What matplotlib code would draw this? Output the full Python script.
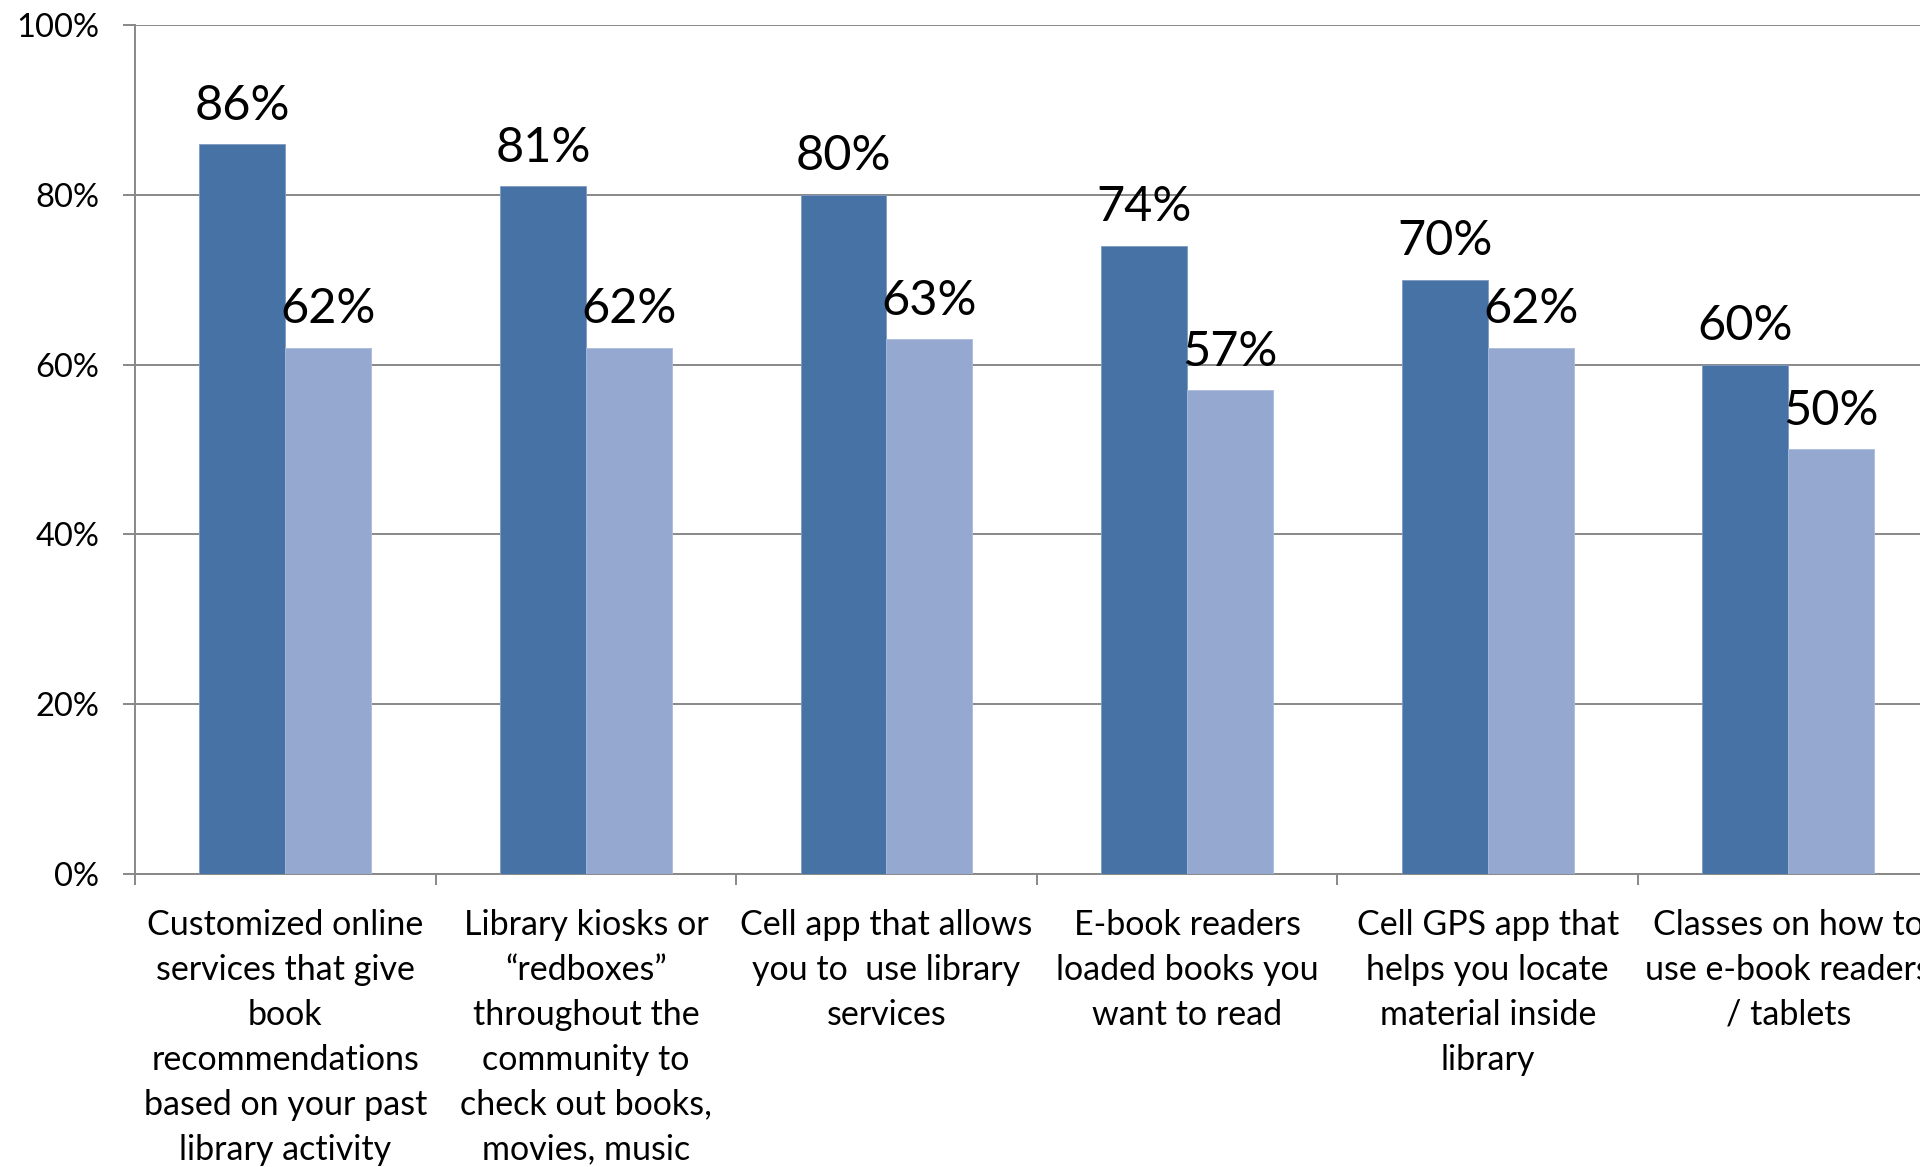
import numpy as np
import matplotlib.pyplot as plt
from matplotlib.ticker import FixedLocator, PercentFormatter

plt.rcParams['font.family'] = ['Lato', 'DejaVu Sans']

categories = [
    "Customized online\nservices that give\nbook\nrecommendations\nbased on your past\nlibrary activity",
    "Library kiosks or\n\u201credboxes\u201d\nthroughout the\ncommunity to\ncheck out books,\nmovies, music",
    "Cell app that allows\nyou to  use library\nservices",
    "E-book readers\nloaded books you\nwant to read",
    "Cell GPS app that\nhelps you locate\nmaterial inside\nlibrary",
    "Classes on how to\nuse e-book readers\n/ tablets",
]
series_a = [86, 81, 80, 74, 70, 60]
series_b = [62, 62, 63, 57, 62, 50]
y_ticks = [0, 20, 40, 60, 80, 100]

dark = '#4672A6'
light = '#95A9D0'
grey = '#888888'

fig = plt.figure(figsize=(19.2, 11.67), dpi=100)
ax = fig.add_axes([0.0703, 0.2511, 0.9394, 0.7275])

x = np.arange(len(categories))
w = 0.286
bars_a = ax.bar(x - w / 2, series_a, w, color=dark, edgecolor='#7F9AC2', linewidth=0.6, zorder=3)
bars_b = ax.bar(x + w / 2, series_b, w, color=light, edgecolor='#A9BADB', linewidth=0.6, zorder=3)

for bars, vals in ((bars_a, series_a), (bars_b, series_b)):
    for b, v in zip(bars, vals):
        ax.annotate(f"{v}%", (b.get_x() + b.get_width() / 2, v),
                    xytext=(0, 17.5), textcoords='offset points',
                    ha='center', va='baseline', fontsize=35, color='black',
                    annotation_clip=False)

ax.set_xlim(-0.5, len(categories) - 0.5)
ax.set_ylim(0, 100)
ax.set_yticks(y_ticks)
ax.yaxis.set_major_formatter(PercentFormatter(decimals=0))
ax.grid(axis='y', color=grey, linewidth=1.4, zorder=0)
ax.set_axisbelow(True)

# category boundaries get the tick marks, centers get the labels
ax.xaxis.set_major_locator(FixedLocator(np.arange(len(categories) + 1) - 0.5))
ax.xaxis.set_major_formatter(plt.NullFormatter())
ax.xaxis.set_minor_locator(FixedLocator(x))
ax.set_xticklabels(categories, minor=True, fontsize=24.5, linespacing=1.5)
ax.tick_params(axis='x', which='major', length=8, width=1.4, color=grey, direction='out')
ax.tick_params(axis='x', which='minor', length=0, pad=25)
ax.tick_params(axis='y', length=8.6, width=1.4, color=grey, direction='out',
               labelsize=23.5, pad=17)

for side in ('top', 'right'):
    ax.spines[side].set_visible(False)
for side in ('left', 'bottom'):
    ax.spines[side].set_color(grey)
    ax.spines[side].set_linewidth(1.4)

fig.savefig('out.png', dpi=100)
